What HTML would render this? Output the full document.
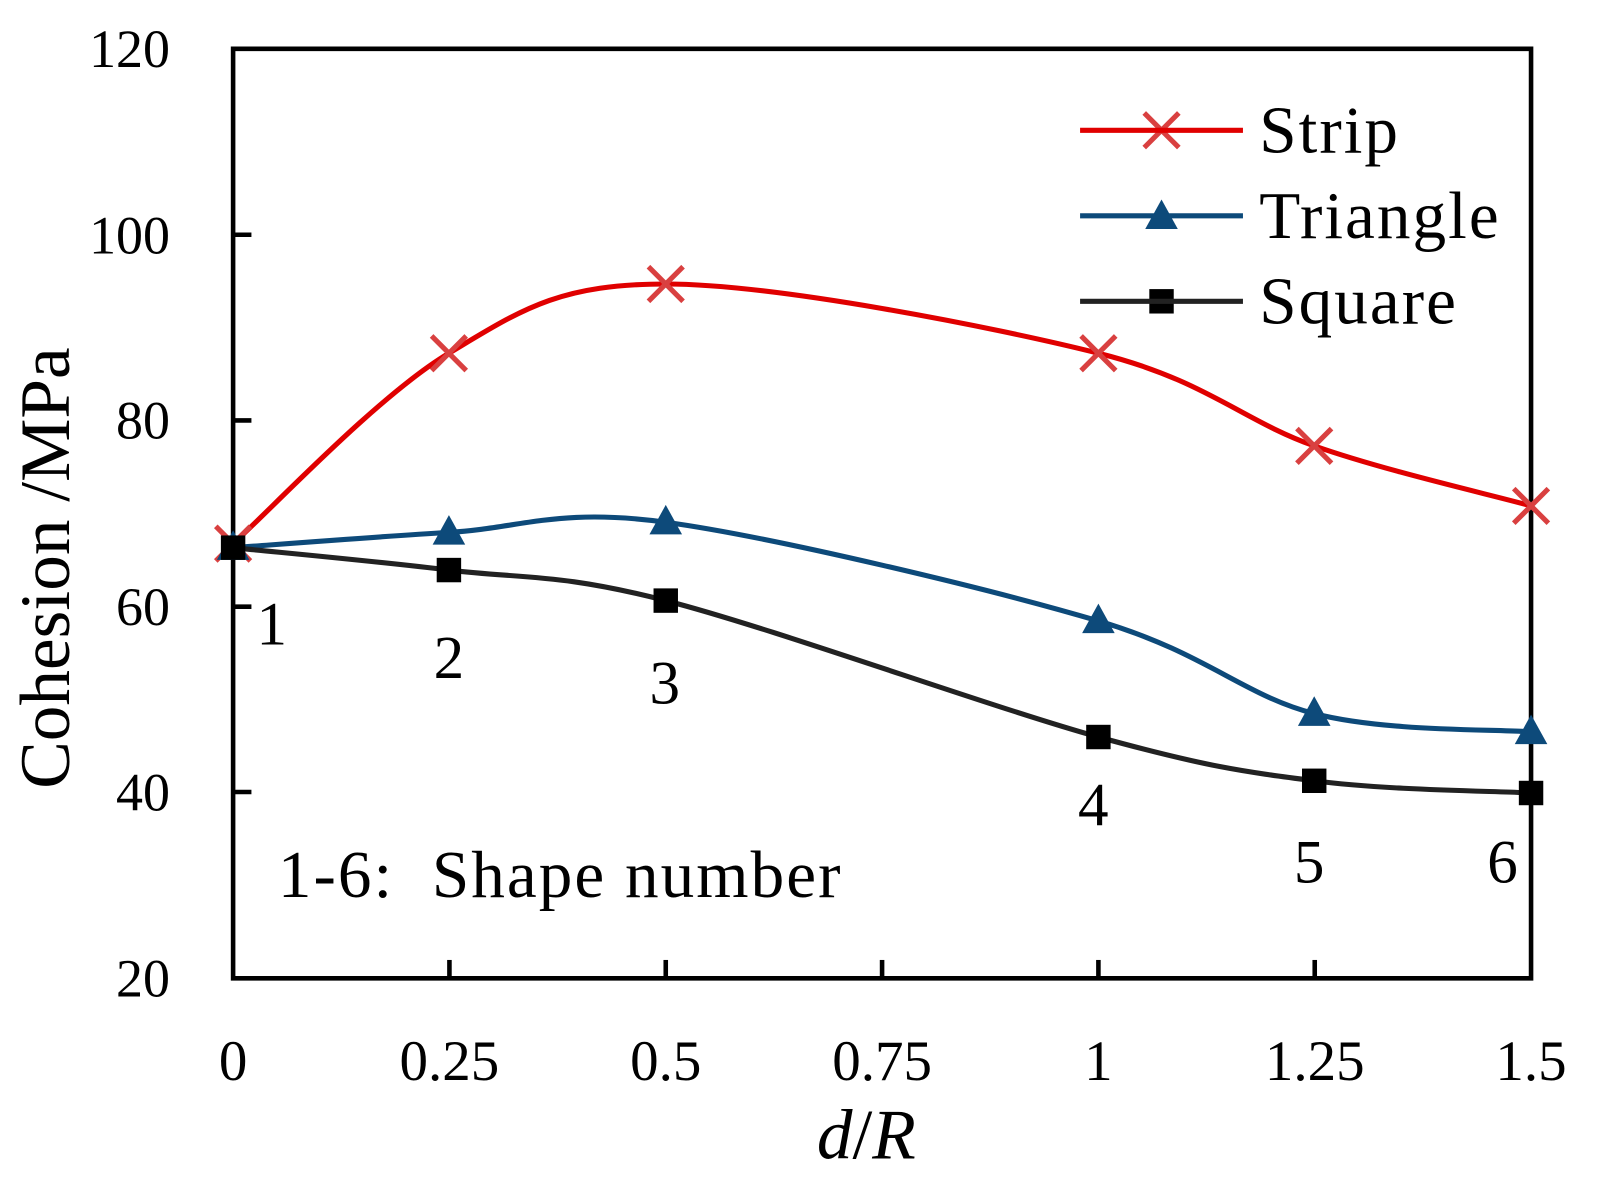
<!DOCTYPE html>
<html><head><meta charset="utf-8"><style>
html,body{margin:0;padding:0;background:#fff;}
svg{display:block;}
text{font-family:"Liberation Serif",serif;fill:#000;}
</style></head><body>
<svg width="1598" height="1192" viewBox="0 0 1598 1192">
<g transform="translate(1,1) scale(1.018)">
<path d="M228,47 L1503,47 L1503,960 L228,960 Z" fill="none" stroke="#000" stroke-width="4.5"/>
<g stroke="#000" stroke-width="4.5">
<line x1="440.5" y1="960" x2="440.5" y2="942"/>
<line x1="653" y1="960" x2="653" y2="942"/>
<line x1="865.5" y1="960" x2="865.5" y2="942"/>
<line x1="1078" y1="960" x2="1078" y2="942"/>
<line x1="1290.5" y1="960" x2="1290.5" y2="942"/>
<line x1="228" y1="229.6" x2="246" y2="229.6"/>
<line x1="228" y1="412" x2="246" y2="412"/>
<line x1="228" y1="595" x2="246" y2="595"/>
<line x1="228" y1="777" x2="246" y2="777"/>
</g>
<g font-size="53" text-anchor="end">
<text x="166" y="65">120</text>
<text x="166" y="248">100</text>
<text x="166" y="430">80</text>
<text x="166" y="613">60</text>
<text x="166" y="795">40</text>
<text x="166" y="978">20</text>
</g>
<g font-size="56" text-anchor="middle">
<text x="228" y="1060">0</text>
<text x="440.5" y="1060">0.25</text>
<text x="653" y="1060">0.5</text>
<text x="865.5" y="1060">0.75</text>
<text x="1078" y="1060">1</text>
<text x="1290.5" y="1060">1.25</text>
<text x="1503" y="1060">1.5</text>
</g>
<text x="850" y="1137" font-size="70" text-anchor="middle"><tspan font-style="italic">d</tspan>/<tspan font-style="italic">R</tspan></text>
<text transform="translate(67,557) rotate(-90)" font-size="70" text-anchor="middle">Cohesion /MPa</text>
<path d="M228,533 C263,502 369,388.5 440,346 C511,303.5 547,278 653,278 C759,278 972,319.5 1078,346 C1184,372.5 1219,412 1290,437 C1361,462 1468,486 1503,496" fill="none" stroke="#e00000" stroke-width="5"/>
<path d="M228,537 C263,534.5 369,526.2 440,522 C511,517.8 547,497.5 653,512 C759,526.5 972,577.7 1078,609 C1184,640.3 1219,681.5 1290,700 C1361,718.2 1468,715 1503,718" fill="none" stroke="#0d4a7a" stroke-width="5"/>
<path d="M228,537 C263,540.7 369,550.3 440,559 C511,567.7 547,561.7 653,589 C759,616.3 972,693.5 1078,723 C1184,752.2 1219,756.8 1290,766 C1361,775.5 1468,776 1503,778" fill="none" stroke="#222" stroke-width="5"/>
<g stroke="#d94040" stroke-width="5">
<path d="M211,516 l34,34 M245,516 l-34,34"/>
<path d="M423,329 l34,34 M457,329 l-34,34"/>
<path d="M636,261 l34,34 M670,261 l-34,34"/>
<path d="M1061,329 l34,34 M1095,329 l-34,34"/>
<path d="M1273,420 l34,34 M1307,420 l-34,34"/>
<path d="M1486,479 l34,34 M1520,479 l-34,34"/>
<path d="M1123,110 l34,34 M1157,110 l-34,34"/>
</g>
<line x1="1060" y1="127" x2="1220" y2="127" stroke="#e00000" stroke-width="5"/>
<g fill="#0d4a7a">
<path d="M228,520 l16,29 h-32z"/>
<path d="M440,505 l16,29 h-32z"/>
<path d="M653,495 l16,29 h-32z"/>
<path d="M1078,592 l16,29 h-32z"/>
<path d="M1290,683 l16,29 h-32z"/>
<path d="M1503,701 l16,29 h-32z"/>
<path d="M1140,195 l16,29 h-32z"/>
</g>
<line x1="1060" y1="211" x2="1220" y2="211" stroke="#0d4a7a" stroke-width="5"/>
<g fill="#000">
<rect x="216" y="525" width="24" height="24"/>
<rect x="428" y="547" width="24" height="24"/>
<rect x="641" y="577" width="24" height="24"/>
<rect x="1066" y="711" width="24" height="24"/>
<rect x="1278" y="754" width="24" height="24"/>
<rect x="1491" y="766" width="24" height="24"/>
<rect x="1128" y="283" width="24" height="24"/>
</g>
<line x1="1060" y1="295" x2="1220" y2="295" stroke="#222" stroke-width="5"/>
<g font-size="66" letter-spacing="2">
<text x="1236" y="149">Strip</text>
<text x="1236" y="233">Triangle</text>
<text x="1236" y="317">Square</text>
</g>
<g font-size="60" text-anchor="middle">
<text x="266" y="632">1</text>
<text x="440" y="665">2</text>
<text x="652" y="690">3</text>
<text x="1073" y="810">4</text>
<text x="1285" y="866">5</text>
<text x="1475" y="866">6</text>
</g>
<text x="272" y="880" font-size="66" letter-spacing="2">1-6:&#160;&#160;Shape number</text>
</g>
</svg>
</body></html>
